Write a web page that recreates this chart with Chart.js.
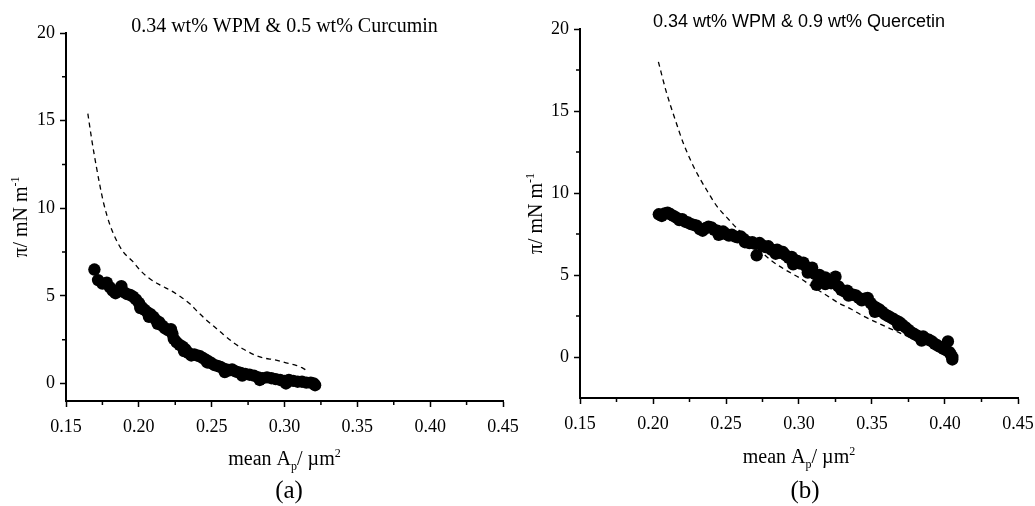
<!DOCTYPE html>
<html>
<head>
<meta charset="utf-8">
<script src="https://cdn.jsdelivr.net/npm/chart.js@4/dist/chart.umd.min.js"></script>
<style>
  body { margin: 0; background: #fff; width: 1035px; height: 506px; position: relative; overflow: hidden; }
  canvas { position: absolute; top: 0; }
  #chartA { left: 0; }
  #chartB { left: 515px; }
</style>
</head>
<body>
<canvas id="chartA" width="540" height="506"></canvas>
<canvas id="chartB" width="520" height="506"></canvas>
<script>
// (a) 0.34 wt% WPM & 0.5 wt% Curcumin  -- measured points
const curcuminArea = [0.1695, 0.172, 0.175, 0.178, 0.180, 0.182, 0.184, 0.186, 0.188, 0.190, 0.192, 0.194, 0.196, 0.198,
  0.200, 0.202, 0.204, 0.206, 0.208, 0.210, 0.212, 0.214, 0.216, 0.218, 0.220, 0.222, 0.223, 0.224, 0.226, 0.228,
  0.230, 0.232, 0.234, 0.236, 0.238, 0.240, 0.242, 0.244, 0.246, 0.248, 0.250, 0.252, 0.254, 0.256, 0.258, 0.260,
  0.262, 0.264, 0.266, 0.268, 0.270, 0.273, 0.276, 0.279, 0.282, 0.285, 0.288, 0.291, 0.294, 0.297, 0.300, 0.303,
  0.306, 0.309, 0.312, 0.315, 0.318, 0.320, 0.321,
  0.201, 0.207, 0.213, 0.231, 0.247, 0.259, 0.271, 0.283, 0.301];
const curcuminPressure = [6.5, 5.9, 5.7, 5.75, 5.5, 5.3, 5.15, 5.3, 5.55, 5.2, 5.1, 5.05, 4.95, 4.8,
  4.6, 4.35, 4.2, 4.05, 3.95, 3.8, 3.6, 3.5, 3.3, 3.15, 3.05, 3.1, 2.85, 2.55, 2.35, 2.2,
  2.1, 1.95, 1.75, 1.6, 1.65, 1.6, 1.55, 1.45, 1.35, 1.25, 1.15, 1.05, 1.0, 0.95, 0.85, 0.8,
  0.75, 0.8, 0.7, 0.65, 0.6, 0.55, 0.5, 0.45, 0.35, 0.3, 0.35, 0.3, 0.25, 0.2, 0.15, 0.2,
  0.15, 0.1, 0.1, 0.05, 0.05, 0.0, -0.1,
  4.3, 3.8, 3.4, 1.85, 1.2, 0.65, 0.45, 0.2, 0.0];
// (a) dashed reference curve
const curcuminFitArea = [0.165, 0.1677, 0.171, 0.1735, 0.1758, 0.1804, 0.1885, 0.196, 0.201, 0.208, 0.215, 0.222,
  0.2287, 0.235, 0.2403, 0.246, 0.2517, 0.258, 0.2655, 0.272, 0.2794, 0.286, 0.2932, 0.300, 0.307, 0.312, 0.315];
const curcuminFitPressure = [15.4, 13.9, 12.3, 11.2, 10.3, 9.0, 7.6, 6.95, 6.45, 5.95, 5.6, 5.3,
  4.95, 4.55, 4.1, 3.65, 3.25, 2.8, 2.3, 1.95, 1.63, 1.45, 1.35, 1.2, 1.06, 0.9, 0.75];

// (b) 0.34 wt% WPM & 0.9 wt% Quercetin  -- measured points
const quercetinArea = [0.204, 0.206, 0.208, 0.210, 0.212, 0.214, 0.216, 0.218, 0.220, 0.222, 0.224, 0.226, 0.228,
  0.230, 0.232, 0.234, 0.236, 0.238, 0.240, 0.242, 0.244, 0.246, 0.248, 0.250, 0.252, 0.254, 0.256, 0.258, 0.260,
  0.262, 0.264, 0.266, 0.268, 0.270, 0.271, 0.273, 0.275, 0.277, 0.279, 0.281, 0.283, 0.285, 0.287, 0.289, 0.291,
  0.293, 0.295, 0.297, 0.299, 0.301, 0.303, 0.305, 0.307, 0.309, 0.311, 0.312, 0.314, 0.316, 0.318, 0.320, 0.322,
  0.325, 0.327, 0.329, 0.331, 0.333, 0.335, 0.337, 0.339, 0.341, 0.343, 0.345, 0.347, 0.349, 0.351, 0.353, 0.355,
  0.357, 0.359, 0.361, 0.363, 0.365, 0.367, 0.369, 0.371, 0.373, 0.375, 0.377, 0.379, 0.381, 0.383, 0.385, 0.387,
  0.389, 0.391, 0.393, 0.395, 0.397, 0.399, 0.401, 0.402, 0.403, 0.404, 0.405, 0.405,
  0.245, 0.263, 0.284, 0.296, 0.306, 0.318, 0.334, 0.352, 0.368, 0.384];
const quercetinPressure = [8.7, 8.6, 8.75, 8.8, 8.7, 8.6, 8.5, 8.35, 8.4, 8.25, 8.2, 8.1, 8.05,
  8.0, 7.8, 7.7, 7.85, 7.95, 7.9, 7.75, 7.7, 7.55, 7.65, 7.5, 7.4, 7.45, 7.35, 7.3, 7.35,
  7.2, 7.05, 6.95, 7.0, 6.9, 6.2, 6.95, 6.8, 6.7, 6.75, 6.55, 6.5, 6.55, 6.35, 6.4, 6.2,
  6.05, 6.1, 5.9, 5.85, 5.7, 5.75, 5.5, 5.3, 5.45, 5.05, 4.4, 5.0, 4.7, 4.85, 4.6, 4.5,
  4.9, 4.3, 4.1, 4.0, 4.05, 3.85, 3.8, 3.75, 3.6, 3.45, 3.55, 3.6, 3.3, 3.1, 3.0, 2.9,
  2.75, 2.6, 2.5, 2.4, 2.3, 2.2, 2.1, 1.95, 1.8, 1.65, 1.5, 1.4, 1.3, 1.2, 1.25, 1.1,
  1.05, 0.95, 0.8, 0.7, 0.6, 0.5, 0.4, 0.95, 0.3, 0.15, 0.0, -0.15,
  7.45, 7.0, 6.3, 5.65, 5.15, 4.45, 3.75, 2.75, 1.95, 1.0];
// (b) dashed reference curve
const quercetinFitArea = [0.2037, 0.209, 0.2151, 0.2205, 0.2265, 0.232, 0.238, 0.2437, 0.2517, 0.258, 0.265, 0.272,
  0.280, 0.290, 0.3008, 0.310, 0.3191, 0.327, 0.3351, 0.344, 0.3534, 0.362, 0.372, 0.382, 0.392, 0.398];
const quercetinFitPressure = [18.0, 16.2, 14.5, 13.1, 11.85, 10.9, 10.0, 9.2, 8.4, 7.8, 7.2, 6.6,
  5.95, 5.35, 4.8, 4.25, 3.75, 3.3, 2.95, 2.5, 2.1, 1.75, 1.35, 0.95, 0.55, 0.3];

// axis ticks
const xTicks = [0.15, 0.20, 0.25, 0.30, 0.35, 0.40, 0.45];
const xMinorTicks = [0.175, 0.225, 0.275, 0.325, 0.375, 0.425];
const yTicks = [0, 5, 10, 15, 20];
const yMinorTicks = [-2.5, 2.5, 7.5, 12.5, 17.5];

const serif = '"Liberation Serif", "Times New Roman", serif';
const sans = '"Liberation Sans", Arial, sans-serif';

const toPoints = (xs, ys) => xs.map((x, i) => ({ x, y: ys[i] }));

// draws text with sub/superscript parts, centered on (x, y)
function drawRich(ctx, parts, x, y, size, rotate) {
  ctx.save();
  ctx.translate(x, y);
  if (rotate) ctx.rotate(-Math.PI / 2);
  ctx.fillStyle = "#000";
  ctx.textAlign = "left";
  ctx.textBaseline = "alphabetic";
  const small = Math.round(size * 0.62);
  const fontFor = (p) => `${p.sub || p.sup ? small : size}px ${serif}`;
  const widths = parts.map((p) => { ctx.font = fontFor(p); return ctx.measureText(p.t).width; });
  let cx = -widths.reduce((a, b) => a + b, 0) / 2;
  parts.forEach((p, i) => {
    ctx.font = fontFor(p);
    const dy = p.sub ? size * 0.24 : p.sup ? -size * 0.4 : 0;
    ctx.fillText(p.t, cx, dy);
    cx += widths[i];
  });
  ctx.restore();
}

const decorations = {
  id: "decorations",
  afterDraw(chart, args, opts) {
    const { ctx, chartArea, scales } = chart;
    const midX = (chartArea.left + chartArea.right) / 2;
    const midY = (chartArea.top + chartArea.bottom) / 2;

    // minor ticks
    ctx.save();
    ctx.strokeStyle = "#000";
    ctx.lineWidth = 1.5;
    ctx.beginPath();
    xMinorTicks.forEach((v) => {
      const px = scales.x.getPixelForValue(v);
      ctx.moveTo(px, chartArea.bottom);
      ctx.lineTo(px, chartArea.bottom + 4);
    });
    yMinorTicks.forEach((v) => {
      if (v <= scales.y.min) return;
      const py = scales.y.getPixelForValue(v);
      ctx.moveTo(chartArea.left, py);
      ctx.lineTo(chartArea.left - 4, py);
    });
    ctx.stroke();

    // panel title
    ctx.fillStyle = "#000";
    ctx.textAlign = "center";
    ctx.textBaseline = "middle";
    ctx.font = opts.titleFont;
    ctx.fillText(opts.title, midX, opts.titleY);

    // panel letter
    ctx.font = `25px ${serif}`;
    ctx.textBaseline = "alphabetic";
    ctx.fillText(opts.letter, opts.letterX, 498);
    ctx.restore();

    // axis titles
    drawRich(ctx, [{ t: "mean A" }, { t: "p", sub: true }, { t: "/ \u00b5m" }, { t: "2", sup: true }],
      midX, opts.xTitleY, 20, false);
    drawRich(ctx, [{ t: "\u03c0/ mN m" }, { t: "-1", sup: true }], opts.yTitleX, midY, 20, true);
  },
};

function makeChart(id, cfg) {
  return new Chart(document.getElementById(id), {
    type: "scatter",
    data: {
      datasets: [
        {
          data: toPoints(cfg.area, cfg.pressure),
          backgroundColor: "#000",
          borderWidth: 0,
          pointRadius: 6.2,
        },
        {
          data: toPoints(cfg.fitArea, cfg.fitPressure),
          showLine: true,
          pointRadius: 0,
          borderColor: "#000",
          borderWidth: 1.3,
          borderDash: [5, 4],
          cubicInterpolationMode: "monotone",
        },
      ],
    },
    options: {
      responsive: false,
      animation: false,
      events: [],
      layout: { padding: cfg.padding },
      plugins: {
        legend: { display: false },
        tooltip: { enabled: false },
        decorations: cfg.deco,
      },
      scales: {
        x: {
          type: "linear",
          min: 0.15,
          max: 0.45,
          afterBuildTicks: (s) => { s.ticks = xTicks.map((v) => ({ value: v })); },
          afterFit: (s) => { s.height = cfg.xHeight; s.paddingLeft = 0; s.paddingRight = 0; },
          border: { display: true, color: "#000", width: 2 },
          grid: { drawOnChartArea: false, tickLength: 6, tickWidth: 1.5, tickColor: "#000" },
          ticks: {
            color: "#000",
            font: { family: serif, size: 18 },
            padding: 9,
            maxRotation: 0,
            autoSkip: false,
            callback: (v) => v.toFixed(2),
          },
        },
        y: {
          type: "linear",
          min: cfg.yMin,
          max: 20,
          afterBuildTicks: (s) => { s.ticks = yTicks.map((v) => ({ value: v })); },
          afterFit: (s) => { s.width = cfg.yWidth; s.paddingTop = 0; s.paddingBottom = 0; },
          border: { display: true, color: "#000", width: 2 },
          grid: { drawOnChartArea: false, tickLength: 6, tickWidth: 1.5, tickColor: "#000" },
          ticks: {
            color: "#000",
            font: { family: serif, size: 18 },
            padding: 5,
            autoSkip: false,
            callback: (v) => String(v),
          },
        },
      },
    },
    plugins: [decorations],
  });
}

makeChart("chartA", {
  area: curcuminArea,
  pressure: curcuminPressure,
  fitArea: curcuminFitArea,
  fitPressure: curcuminFitPressure,
  yMin: -1,
  yWidth: 66,
  xHeight: 105,
  padding: { left: 0, top: 33, right: 37, bottom: 0 },
  deco: {
    title: "0.34 wt% WPM & 0.5 wt% Curcumin",
    titleFont: `20px ${serif}`,
    titleY: 27,
    letter: "(a)",
    letterX: 289,
    xTitleY: 465,
    yTitleX: 27,
  },
});

makeChart("chartB", {
  area: quercetinArea,
  pressure: quercetinPressure,
  fitArea: quercetinFitArea,
  fitPressure: quercetinFitPressure,
  yMin: -2.5,
  yWidth: 65,
  xHeight: 108,
  padding: { left: 0, top: 29, right: 17, bottom: 0 },
  deco: {
    title: "0.34 wt% WPM & 0.9 wt% Quercetin",
    titleFont: `18px ${sans}`,
    titleY: 22,
    letter: "(b)",
    letterX: 805 - 515,
    xTitleY: 463,
    yTitleX: 27,
  },
});
</script>
</body>
</html>
